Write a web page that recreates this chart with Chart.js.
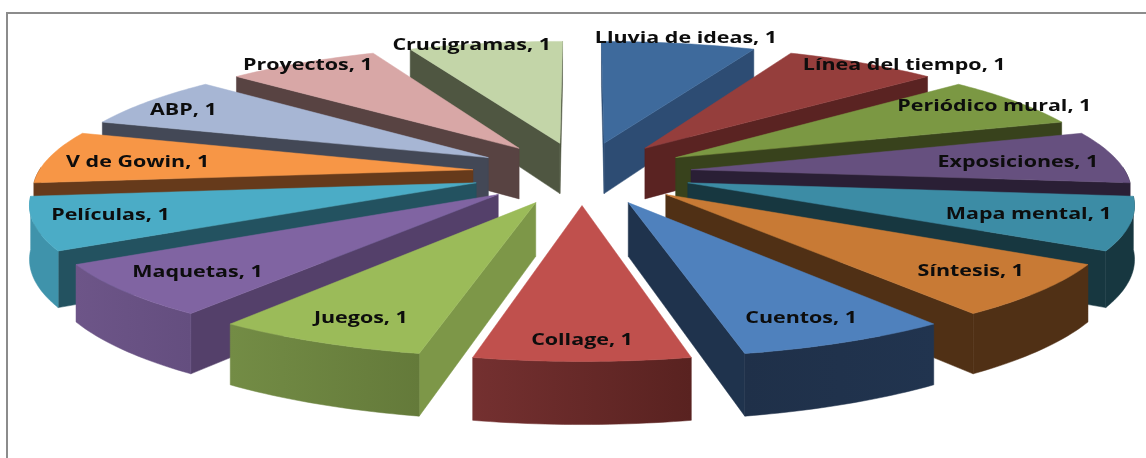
<!DOCTYPE html>
<html>
<head>
<meta charset="utf-8">
<script src="https://cdn.jsdelivr.net/npm/chart.js@4/dist/chart.umd.min.js"></script>
<style>
  html, body { margin: 0; padding: 0; background: #fff; overflow: hidden; }
  #frame { position: absolute; left: 6px; top: 12px; width: 1200px; height: 600px; border: 2px solid #8c8c8c; }
  #pieChart { position: absolute; left: 0; top: 0; filter: blur(0.45px); }
</style>
</head>
<body>
<div id="frame"></div>
<canvas id="pieChart" width="1146" height="458"></canvas>
<script>
const categories = ['Lluvia de ideas', 'Línea del tiempo', 'Periódico mural', 'Exposiciones', 'Mapa mental',
    'Síntesis', 'Cuentos', 'Collage', 'Juegos', 'Maquetas', 'Películas', 'V de Gowin', 'ABP', 'Proyectos', 'Crucigramas'];
const values = [1, 1, 1, 1, 1, 1, 1, 1, 1, 1, 1, 1, 1, 1, 1];

const topColors = ['#3e6a9c', '#953e3c', '#7b9843', '#66507f', '#3c8ca5', '#c87a35', '#4f81bd', '#c0504d',
    '#9bbb59', '#8064a2', '#4bacc6', '#f79646', '#a7b6d4', '#d8a7a6', '#c3d5a8'];
const cutColors = ['#2d4c73', '#5a2322', '#38421c', '#2a1f35', '#173740', '#503015', '#1f334d', '#5a2322',
    '#7d9748', '#54406a', '#235260', '#663a1b', '#434856', '#584342', '#4f5641'];
const rimColors = [['#2d4c73', '#2d4c73'], ['#5a2322', '#5a2322'], ['#38421c', '#38421c'], ['#2a1f35', '#2a1f35'],
    ['#173740', '#173740'], ['#503015', '#503015'], ['#1f3049', '#21344f'], ['#743030', '#592220'],
    ['#738c45', '#647a3a'], ['#6d5588', '#644e7f'], ['#3f93ab', '#3f93ab'], ['#663a1b', '#663a1b'],
    ['#434856', '#434856'], ['#584342', '#584342'], ['#4f5641', '#4f5641']];

// where each label sits on its slice: share of the radius, and sideways shift
const labelRadius = [1.055, 1.045, 0.925, 0.765, 0.779, 0.822, 0.844, 0.88, 0.845, 0.82, 0.832, 0.785, 0.875, 0.968, 0.985];
const labelShift = [0.01, 0.10, 0.01, 0.02, 0.003, -0.008, 0.015, 0, -0.011, -0.004, 0.008, -0.02, -0.02, 0, -0.04];

// view of the tilted pie
const tilt = 0.285;
const viewDistance = 3100;
const wallHeight = 52;
const labelFont = 'bold 16.5px "Open Sans"';
const labelStretch = 1.3;

function project(center, wx, wy, drop) {
    const s = viewDistance / (viewDistance + wy);
    return { x: center.x + wx * s, y: center.y - wy * tilt * s + (drop ? wallHeight * s : 0) };
}

function polygon(ctx, points, fill) {
    ctx.beginPath();
    points.forEach(function(p, i) {
        if (i === 0) ctx.moveTo(p.x, p.y);
        else ctx.lineTo(p.x, p.y);
    });
    ctx.closePath();
    ctx.fillStyle = fill;
    ctx.strokeStyle = fill;
    ctx.lineWidth = 0.5;
    ctx.fill();
    ctx.stroke();
}

function signedArea(points) {
    let sum = 0;
    points.forEach(function(p, i) {
        const q = points[(i + 1) % points.length];
        sum += p.x * q.y - q.x * p.y;
    });
    return sum;
}

const tiltedPie = {
    id: 'tiltedPie',
    beforeDatasetsDraw(chart) {
        const ctx = chart.ctx;
        const arcs = chart.getDatasetMeta(0).data;
        const slices = arcs.map(function(arc, i) {
            const mid = (arc.startAngle + arc.endAngle) / 2;
            return { arc: arc, i: i, mid: mid, depth: -Math.sin(mid) };
        });

        // back slices first so the front ones cover them
        slices.sort(function(a, b) { return b.depth - a.depth; });

        slices.forEach(function(sl) {
            const arc = sl.arc;
            const r = arc.outerRadius;
            const off = arc.options.offset;
            const ax = Math.cos(sl.mid) * off;
            const ay = -Math.sin(sl.mid) * off;
            const rim = function(a, drop) {
                return project(arc, ax + Math.cos(a) * r, ay - Math.sin(a) * r, drop);
            };
            const apexTop = project(arc, ax, ay, false);
            const apexLow = project(arc, ax, ay, true);

            const startCut = [apexTop, rim(arc.startAngle, false), rim(arc.startAngle, true), apexLow];
            const endCut = [apexTop, rim(arc.endAngle, false), rim(arc.endAngle, true), apexLow];
            if (signedArea(startCut) < 0) polygon(ctx, startCut, cutColors[sl.i]);
            if (signedArea(endCut) > 0) polygon(ctx, endCut, cutColors[sl.i]);

            const top = [apexTop];
            const upper = [];
            const lower = [];
            const steps = 24;
            for (let k = 0; k <= steps; k++) {
                const a = arc.startAngle + (arc.endAngle - arc.startAngle) * k / steps;
                top.push(rim(a, false));
                if (Math.sin(a) >= -0.02) {
                    upper.push(rim(a, false));
                    lower.unshift(rim(a, true));
                }
            }
            if (upper.length > 1) {
                const xs = upper.map(function(p) { return p.x; });
                const grad = ctx.createLinearGradient(Math.min.apply(null, xs), 0, Math.max.apply(null, xs), 0);
                grad.addColorStop(0, rimColors[sl.i][0]);
                grad.addColorStop(1, rimColors[sl.i][1]);
                polygon(ctx, upper.concat(lower), grad);
            }
            polygon(ctx, top, arc.options.backgroundColor);
        });

        ctx.save();
        ctx.font = labelFont;
        ctx.fillStyle = '#0d0d0d';
        ctx.textAlign = 'center';
        ctx.textBaseline = 'middle';
        slices.forEach(function(sl) {
            const arc = sl.arc;
            const r = arc.outerRadius;
            const off = arc.options.offset;
            const dirX = Math.cos(sl.mid);
            const dirY = -Math.sin(sl.mid);
            const along = off + r * labelRadius[sl.i];
            const side = r * labelShift[sl.i];
            const p = project(arc, dirX * along + -dirY * -side, dirY * along + dirX * -side, false);
            ctx.save();
            ctx.translate(p.x, p.y);
            ctx.scale(labelStretch, 1);
            ctx.fillText(categories[sl.i] + ', ' + values[sl.i], 0, 0);
            ctx.restore();
        });
        ctx.restore();
        return false;
    }
};

new Chart(document.getElementById('pieChart').getContext('2d'), {
    type: 'pie',
    data: {
        labels: categories,
        datasets: [{
            data: values,
            backgroundColor: topColors,
            borderWidth: 0,
            offset: 110,
            hoverOffset: 0
        }]
    },
    options: {
        responsive: false,
        animation: false,
        rotation: 0,
        radius: 435,
        layout: { padding: { left: 18, bottom: 112 } },
        plugins: { legend: { display: false }, tooltip: { enabled: false } }
    },
    plugins: [tiltedPie]
});
</script>
</body>
</html>
